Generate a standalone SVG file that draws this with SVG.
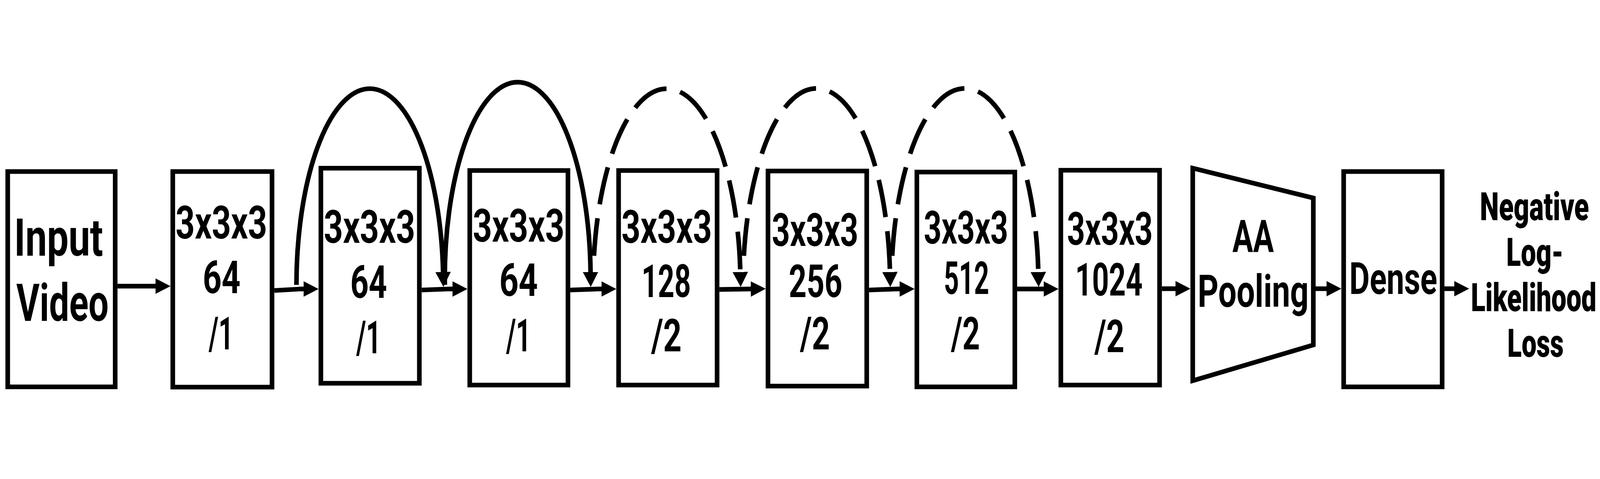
<svg xmlns="http://www.w3.org/2000/svg" width="6223" height="1227" viewBox="0 0 6223 1227" style="width:100%;height:100%">
<style>
.box{fill:#fff;stroke:#000;stroke-width:18;stroke-linejoin:miter}
.t{font-family:Roboto,"Liberation Sans",Arial,sans-serif;font-weight:700;fill:#000;text-anchor:middle}
.c{font-size:178px}
.b{font-size:152px;font-weight:900}
.ln{fill:none;stroke:#000;stroke-width:18}
.dash{stroke-dasharray:147 55}
</style>
<defs>
<marker id="ah" viewBox="0 -30 58 60" refX="1" refY="0" markerWidth="58" markerHeight="60" markerUnits="userSpaceOnUse" orient="auto">
<path d="M0,-30 L58,0 L0,30 z" fill="#000"/>
</marker>
</defs>
<rect width="6223" height="1227" fill="#fff"/>

<g id="input-video">
<rect class="box" x="30" y="349" width="418" height="838"/>
<text class="t" font-size="203" x="228" y="677" textLength="346" lengthAdjust="spacingAndGlyphs">Input</text>
<text class="t" font-size="203" x="243" y="931" textLength="359" lengthAdjust="spacingAndGlyphs">Video</text>
</g>

<g id="conv1">
<rect class="box" x="672" y="349" width="386" height="839"/>
<text class="t c" x="861" y="610" textLength="356" lengthAdjust="spacingAndGlyphs">3x3x3</text>
<text class="t c" x="862" y="823" textLength="147" lengthAdjust="spacingAndGlyphs">64</text>
<text class="t c" x="860" y="1041" textLength="96" lengthAdjust="spacingAndGlyphs">/1</text>
</g>

<g id="conv2">
<rect class="box" x="1248" y="336" width="383" height="837"/>
<text class="t c" x="1437" y="626" textLength="355" lengthAdjust="spacingAndGlyphs">3x3x3</text>
<text class="t c" x="1434" y="841" textLength="143" lengthAdjust="spacingAndGlyphs">64</text>
<text class="t c" x="1434" y="1056" textLength="96" lengthAdjust="spacingAndGlyphs">/1</text>
</g>

<g id="conv3">
<rect class="box" x="1827" y="345" width="382" height="835"/>
<text class="t c" x="2017" y="622" textLength="356" lengthAdjust="spacingAndGlyphs">3x3x3</text>
<text class="t c" x="2017" y="833" textLength="150" lengthAdjust="spacingAndGlyphs">64</text>
<text class="t c" x="2017" y="1049" textLength="96" lengthAdjust="spacingAndGlyphs">/1</text>
</g>

<g id="conv4">
<rect class="box" x="2406" y="345" width="383" height="835"/>
<text class="t c" x="2593" y="626" textLength="352" lengthAdjust="spacingAndGlyphs">3x3x3</text>
<text class="t c" x="2591" y="837" textLength="192" lengthAdjust="spacingAndGlyphs">128</text>
<text class="t c" x="2592" y="1049" textLength="118" lengthAdjust="spacingAndGlyphs">/2</text>
</g>

<g id="conv5">
<rect class="box" x="2987" y="347" width="384" height="837"/>
<text class="t c" x="3170" y="638" textLength="336" lengthAdjust="spacingAndGlyphs">3x3x3</text>
<text class="t c" x="3172" y="837" textLength="208" lengthAdjust="spacingAndGlyphs">256</text>
<text class="t c" x="3170" y="1041" textLength="116" lengthAdjust="spacingAndGlyphs">/2</text>
</g>

<g id="conv6">
<rect class="box" x="3566" y="351" width="381" height="836"/>
<text class="t c" x="3757" y="630" textLength="328" lengthAdjust="spacingAndGlyphs">3x3x3</text>
<text class="t c" x="3759" y="826" textLength="176" lengthAdjust="spacingAndGlyphs">512</text>
<text class="t c" x="3755" y="1041" textLength="112" lengthAdjust="spacingAndGlyphs">/2</text>
</g>

<g id="conv7">
<rect class="box" x="4126" y="344" width="384" height="836"/>
<text class="t c" x="4317" y="634" textLength="333" lengthAdjust="spacingAndGlyphs">3x3x3</text>
<text class="t c" x="4313" y="831" textLength="262" lengthAdjust="spacingAndGlyphs">1024</text>
<text class="t c" x="4315" y="1052" textLength="116" lengthAdjust="spacingAndGlyphs">/2</text>
</g>

<g id="aa-pooling">
<polygon class="box" points="4639,336 5108,452 5108,1024 4639,1163"/>
<text class="t" font-size="176" x="4874" y="661" textLength="161" lengthAdjust="spacingAndGlyphs">AA</text>
<text class="t" font-size="176" x="4874" y="875" textLength="432" lengthAdjust="spacingAndGlyphs">Pooling</text>
</g>

<g id="dense">
<rect class="box" x="5226" y="349" width="383" height="838"/>
<text class="t" font-size="172" x="5419" y="826" textLength="342" lengthAdjust="spacingAndGlyphs">Dense</text>
</g>

<g id="loss">
<text class="t b" x="5968" y="538" textLength="424" lengthAdjust="spacingAndGlyphs">Negative</text>
<text class="t b" x="5970" y="716" textLength="223" lengthAdjust="spacingAndGlyphs">Log-</text>
<text class="t b" x="5965" y="892" textLength="488" lengthAdjust="spacingAndGlyphs">Likelihood</text>
<text class="t b" x="5972" y="1070" textLength="219" lengthAdjust="spacingAndGlyphs">Loss</text>
</g>

<g id="connectors">
<path class="ln" marker-end="url(#ah)" d="M457,795 L606,795"/>
<path class="ln" marker-end="url(#ah)" d="M1067,812 L1170,806 L1182,806"/>
<path class="ln" marker-end="url(#ah)" d="M1640,810 L1750,806 L1761,806"/>
<path class="ln" marker-end="url(#ah)" d="M2218,810 L2330,806 L2340,806"/>
<path class="ln" marker-end="url(#ah)" d="M2798,808 L2921,806"/>
<path class="ln" marker-end="url(#ah)" d="M3380,810 L3490,806 L3500,806"/>
<path class="ln" marker-end="url(#ah)" d="M3956,806 L4060,806"/>
<path class="ln" marker-end="url(#ah)" d="M4519,805 L4573,805"/>
<path class="ln" marker-end="url(#ah)" d="M5117,805 L5160,805"/>
<path class="ln" marker-end="url(#ah)" d="M5618,805 L5657,805"/>
<path class="ln" marker-end="url(#ah)" d="M1153,790 A285.5,764 0 0 1 1723.4,741"/>
<path class="ln" marker-end="url(#ah)" d="M1730,790 A283.5,764 0 0 1 2296.9,741"/>
<path class="ln dash" marker-end="url(#ah)" d="M2310.2,677 A286.5,764 0 0 1 2879.4,741"/>
<path class="ln dash" marker-end="url(#ah)" d="M2893.1,677 A286,764 0 0 1 3461.4,741"/>
<path class="ln dash" marker-end="url(#ah)" d="M3470.1,677 A286,764 0 0 1 4038.4,741"/>
</g>
</svg>
